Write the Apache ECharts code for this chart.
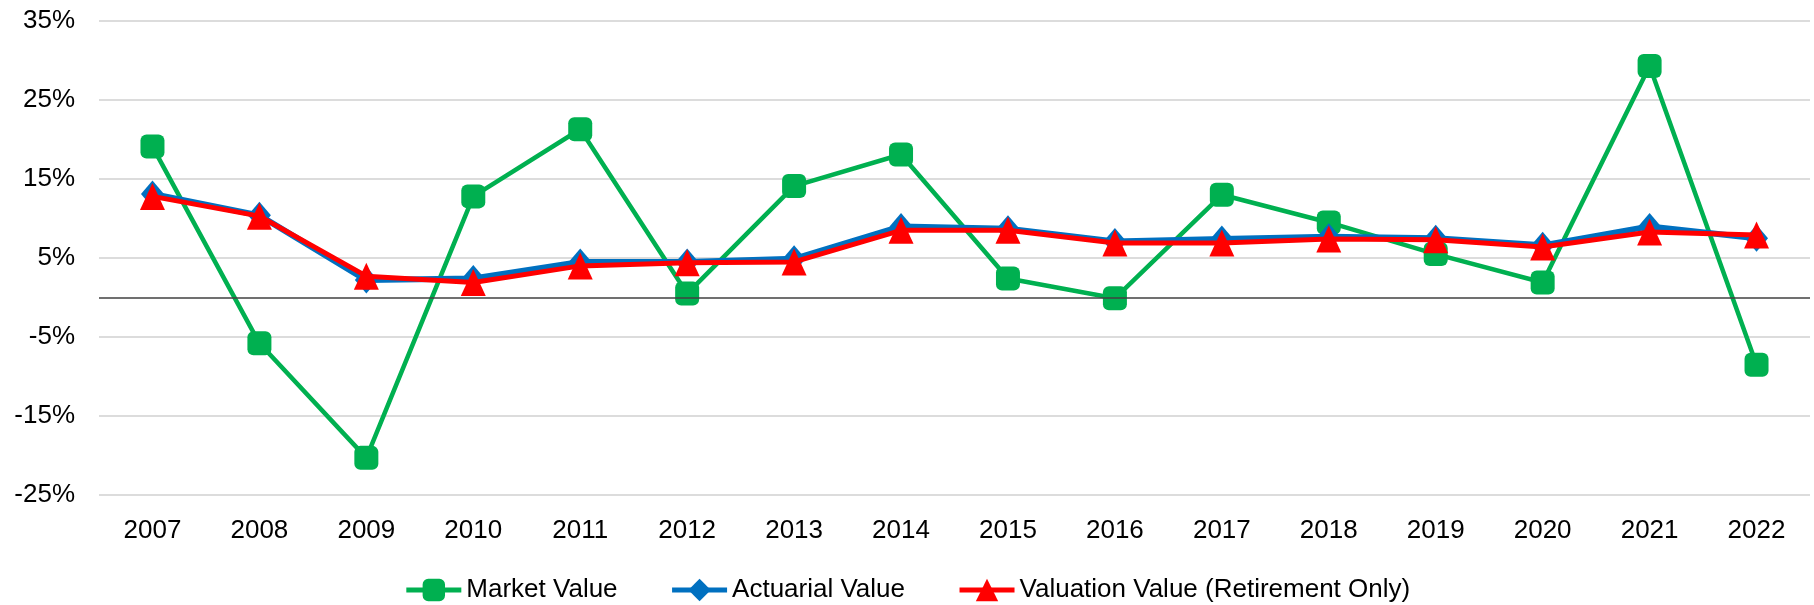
<!DOCTYPE html>
<html>
<head>
<meta charset="UTF-8">
<title>Returns</title>
<script src="https://cdn.jsdelivr.net/npm/echarts@6/dist/echarts.min.js"></script>
<style>
	html, body { margin: 0; padding: 0; background: #fff; }
	#chart { width: 1814px; height: 605px; }
</style>
</head>
<body>
	<div id="chart"></div>
	<script type="text/javascript">
		// data (percent)
		var years = [ '2007', '2008', '2009', '2010', '2011', '2012', '2013', '2014',
				'2015', '2016', '2017', '2018', '2019', '2020', '2021', '2022' ];
		var marketValue = [ 19.1, -5.8, -20.3, 12.8, 21.3, 0.5, 14.1, 18.1,
				2.4, -0.1, 13.0, 9.5, 5.5, 1.9, 29.3, -8.5 ];
		var actuarialValue = [ 13.1, 10.4, 2.2, 2.4, 4.5, 4.5, 4.9, 9.0,
				8.7, 7.1, 7.4, 7.7, 7.5, 6.6, 9.0, 7.5 ];
		var valuationValue = [ 12.8, 10.3, 2.7, 1.9, 4.0, 4.4, 4.5, 8.5,
				8.5, 6.9, 6.9, 7.4, 7.3, 6.4, 8.3, 7.9 ];
		var yTicks = { min : -25, max : 35, interval : 10 };

		var font = '"Liberation Sans", Arial, sans-serif';
		var chart = echarts.init(document.getElementById('chart'));
		chart.setOption({
			animation : false,
			textStyle : {
				fontFamily : font
			},
			grid : {
				left : 99,
				right : 4,
				top : 21,
				bottom : 110
			},
			legend : {
				top : 572,
				left : 'center',
				itemWidth : 55,
				itemHeight : 28,
				itemGap : 52,
				lineStyle : {
					width : 5
				},
				textStyle : {
					fontSize : 26,
					color : '#000',
					fontFamily : font
				},
				data : [ 'Market Value', 'Actuarial Value',
						'Valuation Value (Retirement Only)' ]
			},
			xAxis : {
				type : 'category',
				data : years,
				axisLine : {
					show : false,
					onZero : false
				},
				axisTick : {
					show : false
				},
				axisLabel : {
					fontSize : 26,
					color : '#000',
					margin : 23
				}
			},
			yAxis : {
				type : 'value',
				min : yTicks.min,
				max : yTicks.max,
				interval : yTicks.interval,
				axisLine : {
					show : false
				},
				axisTick : {
					show : false
				},
				axisLabel : {
					fontSize : 26,
					color : '#000',
					margin : 24,
					formatter : '{value}%'
				},
				splitLine : {
					lineStyle : {
						color : '#d0d0d0',
						width : 1.5
					}
				}
			},
			series : [ {
				name : 'Market Value',
				type : 'line',
				data : marketValue,
				symbol : 'roundRect',
				symbolSize : 24,
				itemStyle : {
					color : '#00b050'
				},
				lineStyle : {
					color : '#00b050',
					width : 4.5
				},
				markLine : {
					silent : true,
					symbol : 'none',
					label : {
						show : false
					},
					lineStyle : {
						color : '#404040',
						type : 'solid',
						width : 1.5,
						opacity : 1
					},
					emphasis : {
						disabled : true
					},
					data : [ {
						yAxis : 0
					} ]
				},
				z : 2
			}, {
				name : 'Actuarial Value',
				type : 'line',
				data : actuarialValue,
				symbol : 'diamond',
				symbolSize : [ 23, 27 ],
				itemStyle : {
					color : '#0070c0'
				},
				lineStyle : {
					color : '#0070c0',
					width : 6
				},
				z : 3
			}, {
				name : 'Valuation Value (Retirement Only)',
				type : 'line',
				data : valuationValue,
				symbol : 'triangle',
				symbolSize : [ 25, 27 ],
				itemStyle : {
					color : '#ff0000'
				},
				lineStyle : {
					color : '#ff0000',
					width : 5
				},
				z : 4
			} ]
		});
	</script>
</body>
</html>
